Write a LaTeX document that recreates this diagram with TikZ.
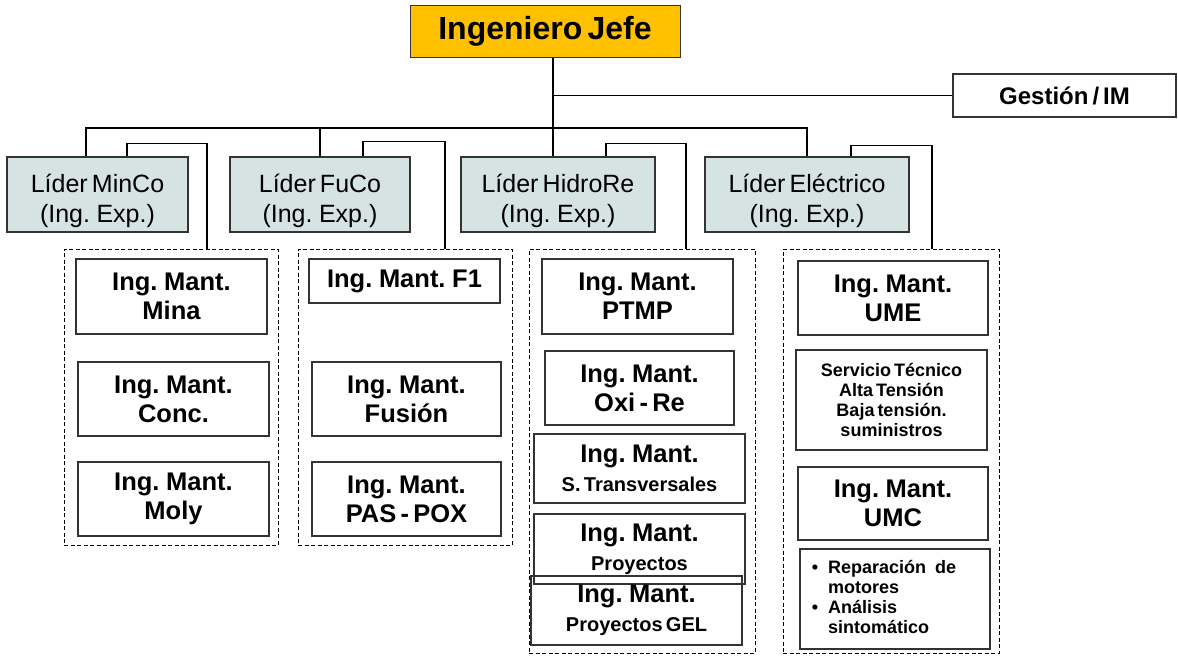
\documentclass[tikz,border=0pt]{standalone}
\usepackage{fontspec}
\setmainfont{Liberation Sans}[WordSpace=0.6]
\definecolor{jefeorange}{HTML}{FFC000}
\definecolor{leadgray}{HTML}{D6E3E3}
\definecolor{boxline}{HTML}{333333}

\begin{document}
\begin{tikzpicture}[x=1pt, y=-1pt,
    chief/.style={rectangle, draw=boxline, fill=jefeorange, line width=1pt, minimum width=270pt, minimum height=52pt, inner sep=0pt, font=\fontsize{32}{38}\selectfont\bfseries},
    lead/.style={rectangle, draw=boxline, fill=leadgray, line width=1.1pt, minimum height=75pt, inner sep=0pt, align=center, font=\fontsize{25}{30}\selectfont},
    unit/.style={rectangle, draw=boxline, line width=1.1pt, minimum width=191pt, minimum height=74pt, inner sep=0pt, align=center, font=\fontsize{25.5}{29}\selectfont\bfseries},
    small/.style={font=\fontsize{18}{20}\selectfont\bfseries},
    group/.style={rectangle, draw=black, line width=0.8pt, dash pattern=on 4pt off 2.5pt, inner sep=0pt, minimum height=296pt},
    conn/.style={draw=black, line width=1.7pt}
]
\useasboundingbox (0,0) rectangle (1178,656);

% Top
\node[chief] (jefe) at (545,31) {Ingeniero Jefe};
\node[rectangle, draw=boxline, line width=1.1pt, minimum width=223pt, minimum height=43pt, font=\fontsize{24}{28}\selectfont\bfseries] (gestion) at (1064.5,95.5) {Gestión / IM};

% Leaders
\node[lead, minimum width=181pt] (minco) at (97.5,194.5) {\rule{0pt}{32pt}Líder MinCo\\(Ing. Exp.)};
\node[lead, minimum width=180pt] (fuco) at (320,194.5) {\rule{0pt}{32pt}Líder FuCo\\(Ing. Exp.)};
\node[lead, minimum width=194pt] (hidro) at (558,194.5) {\rule{0pt}{32pt}Líder HidroRe\\(Ing. Exp.)};
\node[lead, minimum width=204pt] (elec) at (807,194.5) {\rule{0pt}{32pt}Líder Eléctrico\\(Ing. Exp.)};

% Groups
\node[group, minimum width=214pt] (g1) at (171,397) {};
\node[group, minimum width=214pt] (g2) at (405,397) {};
\node[group, minimum width=226pt, minimum height=404pt] (g3) at (642,451) {};
\node[group, minimum width=216pt, minimum height=404pt] (g4) at (891,451) {};

% MinCo units
\node[unit, minimum height=75pt] (mina) at (171.5,296.5) {Ing. Mant.\\Mina};
\node[unit] (conc) at (173.5,399) {Ing. Mant.\\Conc.};
\node[unit] (moly) at (173.5,499) {Ing. Mant.\\Moly};

% FuCo units
\node[unit, minimum height=44pt] (f1) at (404.5,281) {Ing. Mant. F1};
\node[unit, minimum width=189pt] (fusion) at (406.5,399) {Ing. Mant.\\Fusión};
\node[unit, minimum width=189pt] (paspox) at (406.5,499) {Ing. Mant.\\PAS - POX};

% HidroRe units
\node[unit, minimum height=75pt] (ptmp) at (637.5,296.5) {Ing. Mant.\\PTMP};
\node[unit, minimum width=189pt] (oxire) at (639.5,388) {Ing. Mant.\\Oxi - Re};
\node[unit, minimum width=211pt, minimum height=69pt] (transv) at (639.5,468.5) {Ing. Mant.\\{\fontsize{20}{24}\selectfont S. Transversales}};
\node[unit, minimum width=211pt, minimum height=70pt] (proy) at (639.5,549) {Ing. Mant.\\{\fontsize{20}{24}\selectfont Proyectos}};
\node[unit, minimum width=211pt, minimum height=69pt] (gel) at (636.5,610.5) {Ing. Mant.\\{\fontsize{20}{24}\selectfont Proyectos GEL}};

% Electrico units
\node[unit, minimum width=190pt] (ume) at (893,298) {Ing. Mant.\\UME};
\node[unit, small, minimum height=100pt] (servicio) at (891.5,400) {Servicio Técnico\\Alta Tensión\\Baja tensión.\\suministros};
\node[unit, minimum width=190pt, minimum height=73pt] (umc) at (893,503.5) {Ing. Mant.\\UMC};
\node[unit, small, minimum width=190pt, minimum height=100pt] (motores) at (895,599) {\begin{tabular}{@{}l@{\hspace{10pt}}l@{\hspace{22pt}}}\textbullet & Reparación\hspace{9pt}de\\ & motores\\ \textbullet & Análisis\\ & sintomático\end{tabular}};

% Connectors
\coordinate (trunk) at ([xshift=8pt]jefe.south);
\coordinate (bar) at (0,128);
\draw[conn] (trunk) -- (trunk |- hidro.north);
\draw[conn] (gestion.west) -- (gestion.west -| trunk);
\draw[conn] ([xshift=-11.5pt]minco.north) |- (bar -| elec.north) -- (elec.north);
\draw[conn] (fuco.north) -- (fuco.north |- bar);

% Leader to group
\draw[conn] ([xshift=29.5pt]minco.north) -- ++(0,-13) -| ([xshift=36pt]g1.north);
\draw[conn] ([xshift=43pt]fuco.north) -- ++(0,-15) -| ([xshift=40pt]g2.north);
\draw[conn] ([xshift=48pt]hidro.north) -- ++(0,-13) -| ([xshift=44pt]g3.north);
\draw[conn] ([xshift=44pt]elec.north) -- ++(0,-11) -| ([xshift=41pt]g4.north);

\end{tikzpicture}
\end{document}
